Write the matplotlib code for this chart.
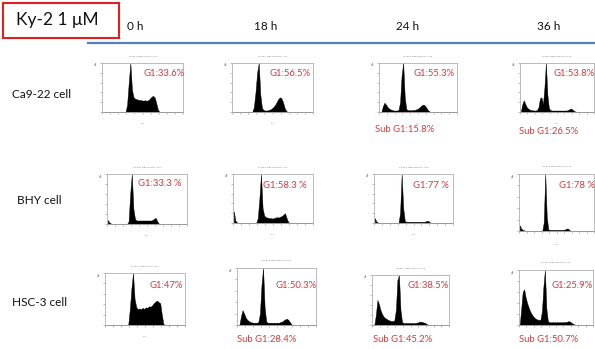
import matplotlib
matplotlib.use("Agg")
import matplotlib.pyplot as plt
from matplotlib.patches import Rectangle
import numpy as np

W, H = 595, 349
NBINS = 50

# ---------------- data ----------------
title_text = "Ky-2 1 \u03bcM"
time_labels = ["0 h", "18 h", "24 h", "36 h"]
cell_labels = ["Ca9-22 cell", "BHY cell", "HSC-3 cell"]

g1_labels = [
    ["G1:33.6%", "G1:56.5%", "G1:55.3%", "G1:53.8%"],
    ["G1:33.3 %", "G1:58.3 %", "G1:77 %", "G1:78 %"],
    ["G1:47%", "G1:50.3%", "G1:38.5%", "G1:25.9%"],
]
subg1_labels = [
    [None, None, "Sub G1:15.8%", "Sub G1:26.5%"],
    [None, None, None, None],
    [None, "Sub G1:28.4%", "Sub G1:45.2%", "Sub G1:50.7%"],
]

# histogram bin heights (start bin, values), relative counts per FL2 bin
ca9_0h = (15, [0.15, 0.6, 1.0, 0.45, 0.3, 0.27, 0.26, 0.25, 0.24, 0.24, 0.23, 0.24, 0.23, 0.24,
               0.27, 0.31, 0.33, 0.30, 0.18, 0.05])
ca9_18h = (13, [0.1, 0.4, 0.8, 1.0, 0.35, 0.08, 0.04, 0.03, 0.03, 0.04, 0.05, 0.07, 0.1, 0.14,
                0.2, 0.26, 0.3, 0.28, 0.2, 0.08, 0.02])
ca9_24h = (2, [0.12, 0.19, 0.15, 0.1, 0.07, 0.05, 0.04, 0.03, 0.03, 0.03, 0.04, 0.2, 0.75, 1.0,
               0.3, 0.06, 0.04, 0.035, 0.035, 0.04, 0.04, 0.05, 0.06, 0.08, 0.11, 0.14, 0.15,
               0.13, 0.08, 0.03, 0.01])
ca9_36h = (1, [0.15, 0.24, 0.17, 0.1, 0.07, 0.05, 0.04, 0.035, 0.03, 0.03, 0.04, 0.1, 0.28, 0.3,
               0.15, 0.5, 1.0, 0.35, 0.08, 0.04, 0.03, 0.03, 0.03, 0.03, 0.03, 0.03, 0.03, 0.03,
               0.03, 0.03, 0.03, 0.04, 0.06, 0.07, 0.05, 0.02, 0.01])
bhy_0h = (0, [0.08, 0.03, 0.01, 0, 0, 0, 0, 0, 0, 0, 0, 0, 0, 0.05, 0.6, 1.0, 0.3, 0.1, 0.07,
              0.07, 0.07, 0.07, 0.07, 0.07, 0.07, 0.07, 0.07, 0.07, 0.08, 0.11, 0.12, 0.05])
bhy_18h = (0, [0.24, 0.05, 0.01, 0, 0, 0, 0, 0, 0, 0, 0, 0, 0, 0, 0, 0.1, 0.5, 1.0, 0.3, 0.15,
               0.12, 0.11, 0.1, 0.1, 0.09, 0.1, 0.11, 0.12, 0.11, 0.13, 0.14, 0.17, 0.2, 0.1,
               0.02])
bhy_24h = (0, [0.1, 0.03, 0.01, 0, 0, 0, 0, 0, 0, 0, 0, 0, 0, 0, 0, 0, 0.2, 1.0, 0.3, 0.04,
               0.025, 0.025, 0.025, 0.025, 0.025, 0.025, 0.025, 0.025, 0.025, 0.025, 0.025,
               0.025, 0.03, 0.045, 0.04, 0.01])
bhy_36h = (0, [0.1, 0.04, 0.02, 0.01, 0, 0, 0, 0, 0, 0, 0, 0, 0, 0, 0, 0, 0.15, 1.0, 0.25, 0.03,
               0.02, 0.02, 0.02, 0.02, 0.02, 0.02, 0.02, 0.02, 0.02, 0.02, 0.025, 0.04, 0.045,
               0.02])
hsc_0h = (15, [0.3, 0.7, 1.0, 0.5, 0.35, 0.3, 0.32, 0.3, 0.33, 0.31, 0.34, 0.33, 0.36, 0.35,
               0.38, 0.42, 0.45, 0.47, 0.44, 0.42, 0.2, 0.02])
hsc_18h = (2, [0.15, 0.26, 0.2, 0.13, 0.09, 0.07, 0.05, 0.045, 0.04, 0.04, 0.04, 0.05, 0.2, 0.7,
               1.0, 0.3, 0.06, 0.04, 0.04, 0.04, 0.04, 0.04, 0.04, 0.04, 0.04, 0.05, 0.06, 0.08,
               0.1, 0.11, 0.09, 0.05, 0.01])
hsc_24h = (2, [0.2, 0.5, 0.42, 0.3, 0.22, 0.17, 0.14, 0.12, 0.1, 0.09, 0.08, 0.08, 0.09, 0.3, 0.9,
               1.0, 0.3, 0.06, 0.04, 0.04, 0.04, 0.04, 0.04, 0.04, 0.04, 0.04, 0.04, 0.05, 0.06,
               0.07, 0.06, 0.05, 0.04, 0.02])
hsc_36h = (1, [0.3, 0.6, 0.65, 0.5, 0.4, 0.32, 0.25, 0.2, 0.16, 0.13, 0.11, 0.1, 0.09, 0.1, 0.25,
               0.7, 1.0, 0.3, 0.07, 0.05, 0.05, 0.05, 0.05, 0.05, 0.05, 0.05, 0.05, 0.05, 0.05,
               0.05, 0.055, 0.06, 0.07, 0.06, 0.04, 0.02, 0.01])

histograms = [
    [ca9_0h, ca9_18h, ca9_24h, ca9_36h],
    [bhy_0h, bhy_18h, bhy_24h, bhy_36h],
    [hsc_0h, hsc_18h, hsc_24h, hsc_36h],
]

# ---------------- layout (pixels) ----------------
panel_boxes = [
    [(102, 63, 183, 112), (232, 63, 313, 112), (379, 63, 457, 112), (520, 63, 594, 112)],
    [(107, 174, 187, 224), (233, 174, 313, 223), (374, 174, 453, 223), (519, 174, 594, 231)],
    [(105, 273, 185, 325), (237, 268, 316, 325), (372, 275, 449, 325), (519, 270, 593, 325)],
]
g1_pos = [
    [(143, 73), (269, 73), (414, 73), (554, 74)],
    [(138, 184), (263, 185), (413, 185), (559, 185)],
    [(149, 285), (275, 286), (407, 286), (551, 286)],
]
sub_pos = [
    [None, None, (375, 130), (519, 131)],
    [None, None, None, None],
    [None, (237, 339), (373, 340), (519, 340)],
]
time_pos = [(127, 27), (254, 27), (396, 27), (537, 27)]
cell_pos = [(12, 94), (17, 201), (12, 302)]

FONT = ["Lato", "DejaVu Sans"]
RED = "#d2393c"

fig = plt.figure(figsize=(W / 100, H / 100), dpi=100)
fig.patch.set_facecolor("white")


def fx(x):
    return x / W


def fy(y):
    return 1 - y / H


# header box and title
fig.patches.append(Rectangle((fx(3), fy(38)), fx(116), 35 / H, transform=fig.transFigure,
                             fill=False, edgecolor="#e02020", linewidth=1.5))
fig.text(fx(16), fy(20), title_text, fontsize=12.5, family=FONT, va="center", ha="left",
         color="#111111")
for lab, (x, y) in zip(time_labels, time_pos):
    fig.text(fx(x), fy(y), lab, fontsize=8.5, family=FONT, va="center", ha="left",
             color="#111111")
fig.add_artist(plt.Line2D([fx(88), fx(595)], [fy(43), fy(43)], transform=fig.transFigure,
                          color="#4f81bd", linewidth=1.6))

for lab, (x, y) in zip(cell_labels, cell_pos):
    fig.text(fx(x), fy(y), lab, fontsize=8.5, family=FONT, va="center", ha="left",
             color="#111111")

centers = (np.arange(NBINS) + 0.5) / NBINS
for r in range(3):
    for c in range(4):
        x0, y0, x1, y1 = panel_boxes[r][c]
        ax = fig.add_axes([fx(x0), fy(y1), (x1 - x0) / W, (y1 - y0) / H])
        start, vals = histograms[r][c]
        counts = np.zeros(NBINS)
        counts[start:start + len(vals)] = vals
        ax.fill_between(centers, 0, counts, color="black", linewidth=0.3)
        ax.set_xlim(0, 1)
        ax.set_ylim(0, 1)
        for s in ax.spines.values():
            s.set_color("#b0b0b0")
            s.set_linewidth(0.6)
        ax.set_xticks(np.linspace(0, 1, 11))
        ax.set_yticks(np.linspace(0, 1, 6))
        ax.tick_params(length=1.2, width=0.4, color="#888888", labelbottom=False,
                       labelleft=False, direction="out")
        # tiny plot titles / axis labels of the cytometer export
        ax.text(0.5, 1.12, "CF-Ky2 1uM " + time_labels[c].replace(" ", "") + ".001 : FL2",
                transform=ax.transAxes, fontsize=1.6, color="#666666", ha="center",
                va="bottom")
        ax.text(0.5, -0.22, "FL2", transform=ax.transAxes, fontsize=1.6, color="#666666",
                ha="center", va="top")
        ax.text(-0.09, 0.95, "#", transform=ax.transAxes, fontsize=2.2, color="#444444",
                ha="center", va="center")
        gx, gy = g1_pos[r][c]
        fig.text(fx(gx), fy(gy), g1_labels[r][c], fontsize=6.8, family=FONT, color=RED,
                 va="center", ha="left")
        if subg1_labels[r][c]:
            sx, sy = sub_pos[r][c]
            fig.text(fx(sx), fy(sy), subg1_labels[r][c], fontsize=6.8, family=FONT,
                     color=RED, va="center", ha="left")

fig.savefig("out.png", dpi=100)
